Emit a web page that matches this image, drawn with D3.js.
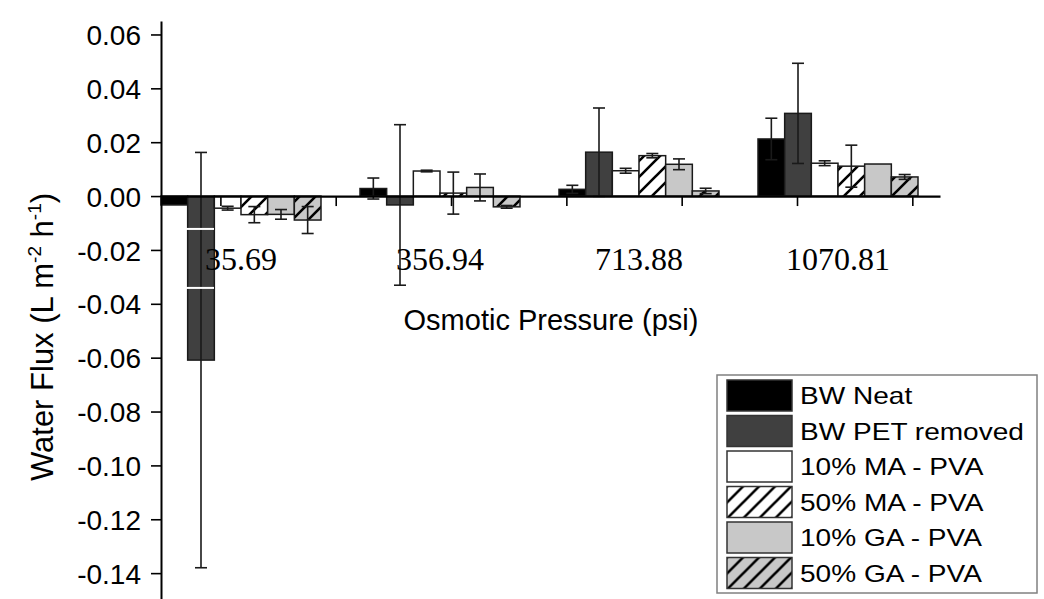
<!DOCTYPE html>
<html>
<head>
<meta charset="utf-8">
<script src="https://cdn.jsdelivr.net/npm/d3@7"></script>
<style>
body { margin: 0; background: #fff; }
svg { display: block; }
</style>
</head>
<body>
<script>
// chart size
var w = 1044, h = 599;

// categories (osmotic pressure, psi)
var pressures = ["35.69", "356.94", "713.88", "1070.81"];

// series names
var seriesNames = ["BW Neat", "BW PET removed", "10% MA - PVA", "50% MA - PVA", "10% GA - PVA", "50% GA - PVA"];

// water flux values per series (one value per pressure)
var bwNeat   = [-0.0033, 0.0028, 0.0025, 0.0212];
var bwPet    = [-0.0609, -0.0033, 0.0163, 0.0307];
var ma10     = [-0.0045, 0.0093, 0.0094, 0.0122];
var ma50     = [-0.0069, 0.0011, 0.0150, 0.0111];
var ga10     = [-0.0068, 0.0032, 0.0118, 0.0119];
var ga50     = [-0.0089, -0.0040, 0.0019, 0.0071];

// error bar half-lengths
var bwNeatErr = [0, 0.0039, 0.0015, 0.0077];
var bwPetErr  = [0.0771, 0.0298, 0.0164, 0.0186];
var ma10Err   = [0.0007, 0.0003, 0.0009, 0.0009];
var ma50Err   = [0.0030, 0.0078, 0.0008, 0.0078];
var ga10Err   = [0.0018, 0.0050, 0.0020, 0];
var ga50Err   = [0.0050, 0.0005, 0.0010, 0.0009];

// y tick labels
var yTicks = [0.06, 0.04, 0.02, 0.00, -0.02, -0.04, -0.06, -0.08, -0.10, -0.12, -0.14];

var values = [bwNeat, bwPet, ma10, ma50, ga10, ga50];
var errors = [bwNeatErr, bwPetErr, ma10Err, ma50Err, ga10Err, ga50Err];

// styles for each series
var fills = {
    "BW Neat": "#000000",
    "BW PET removed": "#404040",
    "10% MA - PVA": "#ffffff",
    "50% MA - PVA": "url(#hatchWhite)",
    "10% GA - PVA": "#c8c8c8",
    "50% GA - PVA": "url(#hatchGray)"
};

window.onload = function(){

    var svg = d3.select("body")
        .append("svg")
        .attr("width", w)
        .attr("height", h)
        .attr("class", "container")
        .style("background-color", "#fff");

    // hatch patterns
    var defs = svg.append("defs");
    [["hatchWhite", "#ffffff"], ["hatchGray", "#c8c8c8"]].forEach(function(p){
        var pat = defs.append("pattern")
            .attr("id", p[0])
            .attr("patternUnits", "userSpaceOnUse")
            .attr("width", 16)
            .attr("height", 16);
        pat.append("rect")
            .attr("width", 16)
            .attr("height", 16)
            .attr("fill", p[1]);
        pat.append("path")
            .attr("d", "M-4,4 L4,-4 M0,16 L16,0 M12,20 L20,12")
            .attr("stroke", "#000")
            .attr("stroke-width", 2.6);
    });

    // scales
    var y = d3.scaleLinear()
        .domain([-0.16, 0.065])
        .range([627, 21]);

    var x0 = d3.scaleBand()
        .domain(pressures)
        .range([161, 918])
        .paddingInner(0.196)
        .paddingOuter(0);

    var x1 = d3.scaleBand()
        .domain(seriesNames)
        .range([0, x0.bandwidth()]);

    // x axis ticks run on their own evenly spaced scale
    var xt = d3.scaleLinear()
        .domain([0.485, 7.24])
        .range([161, 940]);

    // table of bars
    var rows = [];
    pressures.forEach(function(p, i){
        seriesNames.forEach(function(s, j){
            rows.push({p: p, s: s, v: values[j][i], e: errors[j][i]});
        });
    });

    // bars
    svg.selectAll(".bar")
        .data(rows)
        .enter()
        .append("rect")
        .attr("class", "bar")
        .attr("x", function(d){ return x0(d.p) + x1(d.s); })
        .attr("width", x1.bandwidth())
        .attr("y", function(d){ return y(Math.max(0, d.v)); })
        .attr("height", function(d){ return Math.abs(y(d.v) - y(0)); })
        .attr("fill", function(d){ return fills[d.s]; })
        .attr("stroke", "#1a1a1a")
        .attr("stroke-width", 1.5);

    // error bars
    var errs = svg.selectAll(".err")
        .data(rows.filter(function(d){ return d.e > 0; }))
        .enter()
        .append("g")
        .attr("class", "err")
        .attr("stroke", "#1a1a1a")
        .attr("stroke-width", 1.6);

    errs.append("line")
        .attr("x1", function(d){ return x0(d.p) + x1(d.s) + x1.bandwidth() / 2; })
        .attr("x2", function(d){ return x0(d.p) + x1(d.s) + x1.bandwidth() / 2; })
        .attr("y1", function(d){ return y(d.v + d.e); })
        .attr("y2", function(d){ return y(d.v - d.e); });

    [1, -1].forEach(function(sign){
        errs.append("line")
            .attr("x1", function(d){ return x0(d.p) + x1(d.s) + x1.bandwidth() / 2 - 6; })
            .attr("x2", function(d){ return x0(d.p) + x1(d.s) + x1.bandwidth() / 2 + 6; })
            .attr("y1", function(d){ return y(d.v + sign * d.e); })
            .attr("y2", function(d){ return y(d.v + sign * d.e); });
    });

    // white seams left by the pasted label strip in the original figure
    svg.selectAll(".seam")
        .data([-0.0122, -0.0341])
        .enter()
        .append("rect")
        .attr("class", "seam")
        .attr("x", 150)
        .attr("width", 64)
        .attr("y", function(d){ return y(d) - 1; })
        .attr("height", 2)
        .attr("fill", "#fff");

    // y axis
    var yAxis = d3.axisLeft(y)
        .tickValues(yTicks)
        .tickSize(10)
        .tickSizeOuter(0)
        .tickPadding(10)
        .tickFormat(function(d){ return d.toFixed(2); });

    var yg = svg.append("g")
        .attr("class", "axis")
        .attr("transform", "translate(161,0)")
        .call(yAxis);
    yg.select(".domain").attr("stroke-width", 2);
    yg.selectAll(".tick line").attr("stroke-width", 1.6);
    yg.selectAll("text")
        .style("font-family", "'Liberation Sans', Arial, sans-serif")
        .style("font-size", "28px")
        .attr("dy", "0.36em")
        .attr("fill", "#000");

    // x axis
    var xAxis = d3.axisBottom(xt)
        .tickValues(d3.range(1, 8))
        .tickSize(10)
        .tickSizeOuter(0)
        .tickFormat("");

    var xg = svg.append("g")
        .attr("class", "axis")
        .attr("transform", "translate(0," + y(0) + ")")
        .call(xAxis);
    xg.select(".domain").attr("stroke-width", 2.2);
    xg.selectAll(".tick line").attr("stroke-width", 1.6);

    // category labels
    svg.selectAll(".catLabel")
        .data(pressures)
        .enter()
        .append("text")
        .attr("class", "catLabel")
        .attr("x", function(d){ return x0(d) + x0.bandwidth() / 2; })
        .attr("y", y(0) + 74)
        .attr("text-anchor", "middle")
        .style("font-family", "'Liberation Serif', 'Times New Roman', serif")
        .style("font-size", "32px")
        .text(function(d){ return d; });

    // x axis title
    svg.append("text")
        .attr("x", 551)
        .attr("y", 330)
        .attr("text-anchor", "middle")
        .style("font-family", "'Liberation Sans', Arial, sans-serif")
        .style("font-size", "29px")
        .text("Osmotic Pressure (psi)");

    // y axis title
    var yTitle = svg.append("text")
        .attr("transform", "translate(53,337) rotate(-90)")
        .attr("text-anchor", "middle")
        .style("font-family", "'Liberation Sans', Arial, sans-serif")
        .style("font-size", "31px");
    yTitle.append("tspan").text("Water Flux (L m");
    yTitle.append("tspan").attr("dy", -12).style("font-size", "19px").text("-2");
    yTitle.append("tspan").attr("dy", 12).text(" h");
    yTitle.append("tspan").attr("dy", -12).style("font-size", "19px").text("-1");
    yTitle.append("tspan").attr("dy", 12).text(")");

    // legend
    var legend = svg.append("g")
        .attr("class", "legend")
        .attr("transform", "translate(717,375)");

    legend.append("rect")
        .attr("width", 320)
        .attr("height", 218)
        .attr("fill", "#fff")
        .attr("stroke", "#808080")
        .attr("stroke-width", 1.5);

    var items = legend.selectAll(".item")
        .data(seriesNames)
        .enter()
        .append("g")
        .attr("class", "item")
        .attr("transform", function(d, i){ return "translate(10," + (5 + i * 35.5) + ")"; });

    items.append("rect")
        .attr("width", 65)
        .attr("height", 31)
        .attr("fill", function(d){ return fills[d]; })
        .attr("stroke", "#333")
        .attr("stroke-width", 1.5);

    items.append("text")
        .attr("transform", "translate(73,24) scale(1.22,1)")
        .style("font-family", "'Liberation Sans', Arial, sans-serif")
        .style("font-size", "23px")
        .text(function(d){ return d; });
};
</script>
</body>
</html>
